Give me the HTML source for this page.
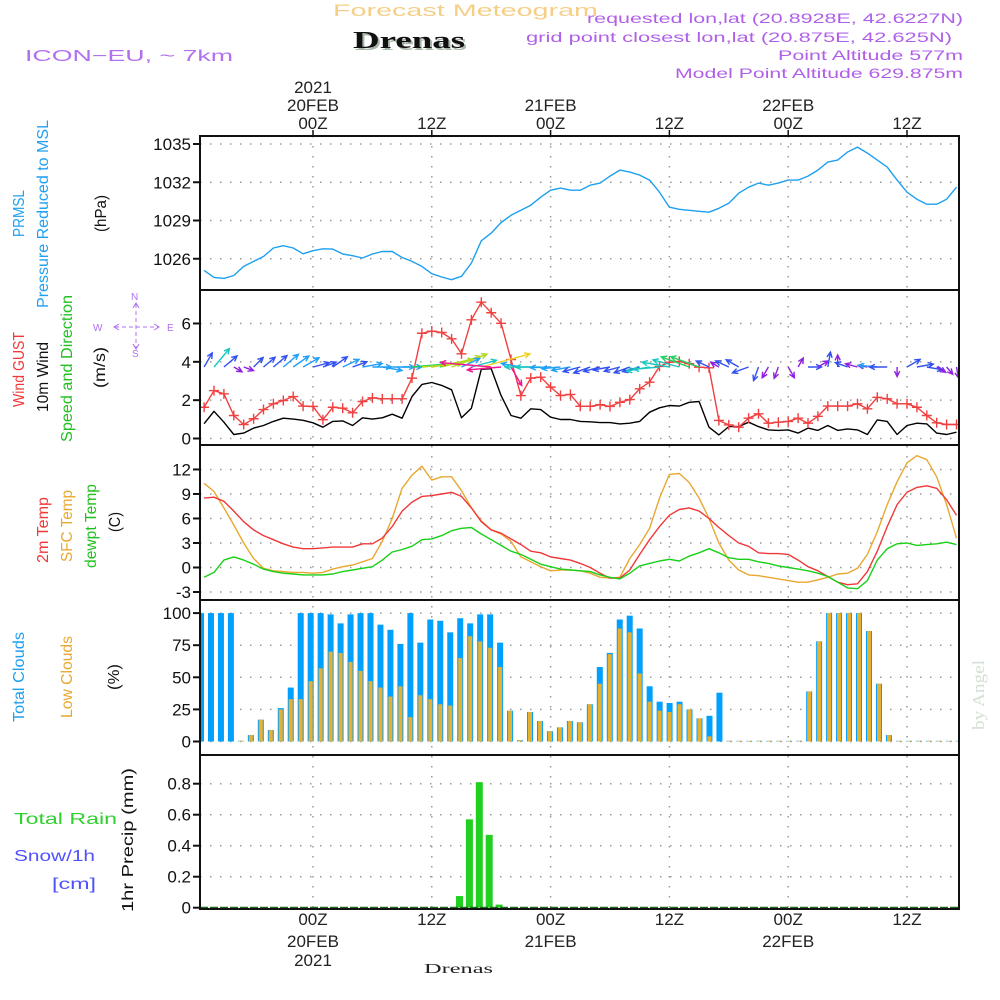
<!DOCTYPE html>
<html><head><meta charset="utf-8"><style>
html,body{margin:0;padding:0;background:#fff;}
svg{display:block;font-family:"Liberation Sans",sans-serif;}
</style></head><body>
<svg id="chart" width="1000" height="1000" viewBox="0 0 1000 1000" xmlns="http://www.w3.org/2000/svg">
<rect width="1000" height="1000" fill="#fff"/>
<g id="titles">
<text x="333" y="16" font-size="17" fill="#f5cf88" textLength="265" lengthAdjust="spacingAndGlyphs">Forecast Meteogram</text>
<text x="355" y="50" font-size="24" font-weight="bold" font-family="Liberation Serif,serif" fill="#a8b8a8" textLength="112" lengthAdjust="spacingAndGlyphs">Drenas</text>
<text x="353" y="48" font-size="24" font-weight="bold" font-family="Liberation Serif,serif" fill="#111" textLength="112" lengthAdjust="spacingAndGlyphs">Drenas</text>
<text x="25" y="61" font-size="16" fill="#b070f0" textLength="208" lengthAdjust="spacingAndGlyphs">ICON−EU, ~ 7km</text>
<text x="587" y="23" font-size="14" fill="#b060e8" textLength="376" lengthAdjust="spacingAndGlyphs">requested lon,lat (20.8928E, 42.6227N)</text>
<text x="526" y="42" font-size="14" fill="#b060e8" textLength="426" lengthAdjust="spacingAndGlyphs">grid point closest lon,lat (20.875E, 42.625N)</text>
<text x="778" y="60" font-size="14" fill="#b060e8" textLength="185" lengthAdjust="spacingAndGlyphs">Point Altitude 577m</text>
<text x="675" y="78" font-size="14" fill="#b060e8" textLength="288" lengthAdjust="spacingAndGlyphs">Model Point Altitude 629.875m</text>
<text transform="translate(984,730) rotate(-90)" font-size="17" font-family="Liberation Serif,serif" fill="#d4e0d4" textLength="70" lengthAdjust="spacingAndGlyphs">by Angel</text>
<text x="424" y="973" font-size="14" font-family="Liberation Serif,serif" fill="#222" textLength="69" lengthAdjust="spacingAndGlyphs">Drenas</text>
</g>
<g id="leftlabels" font-size="16">
<text transform="translate(24,237) rotate(-90)" fill="#20a0f0" textLength="47" lengthAdjust="spacingAndGlyphs">PRMSL</text>
<text transform="translate(48,308) rotate(-90)" fill="#20a0f0" textLength="188" lengthAdjust="spacingAndGlyphs">Pressure Reduced to MSL</text>
<text transform="translate(106,232) rotate(-90)" fill="#111" textLength="37" lengthAdjust="spacingAndGlyphs">(hPa)</text>
<text transform="translate(24,407) rotate(-90)" fill="#f03838" textLength="75" lengthAdjust="spacingAndGlyphs">Wind GUST</text>
<text transform="translate(48,412) rotate(-90)" fill="#111" textLength="70" lengthAdjust="spacingAndGlyphs">10m Wind</text>
<text transform="translate(72,442) rotate(-90)" fill="#20c020" textLength="147" lengthAdjust="spacingAndGlyphs">Speed and Direction</text>
<text transform="translate(105,388) rotate(-90)" fill="#111" textLength="41" lengthAdjust="spacingAndGlyphs">(m/s)</text>
<text transform="translate(48,563) rotate(-90)" fill="#f03838" textLength="66" lengthAdjust="spacingAndGlyphs">2m Temp</text>
<text transform="translate(72,562) rotate(-90)" fill="#e8a830" textLength="72" lengthAdjust="spacingAndGlyphs">SFC Temp</text>
<text transform="translate(96,568) rotate(-90)" fill="#20c020" textLength="84" lengthAdjust="spacingAndGlyphs">dewpt Temp</text>
<text transform="translate(120,532) rotate(-90)" fill="#111" textLength="20" lengthAdjust="spacingAndGlyphs">(C)</text>
<text transform="translate(24,722) rotate(-90)" fill="#20a0f0" textLength="90" lengthAdjust="spacingAndGlyphs">Total Clouds</text>
<text transform="translate(72,718) rotate(-90)" fill="#e8a830" textLength="82" lengthAdjust="spacingAndGlyphs">Low Clouds</text>
<text transform="translate(119,690) rotate(-90)" fill="#111" textLength="26" lengthAdjust="spacingAndGlyphs">(%)</text>
<text transform="translate(133,912) rotate(-90)" fill="#111" textLength="144" lengthAdjust="spacingAndGlyphs">1hr Precip (mm)</text>
<text x="14" y="824" fill="#30d030" textLength="103" lengthAdjust="spacingAndGlyphs">Total   Rain</text>
<text x="14" y="861" fill="#5050ff" textLength="81" lengthAdjust="spacingAndGlyphs">Snow/1h</text>
<text x="52" y="889" fill="#5050ff" textLength="44" lengthAdjust="spacingAndGlyphs">[cm]</text>
</g>
<g id="compass" fill="#b070f0" stroke="#b070f0" font-size="10">
<text x="93" y="331" stroke="none">W</text><text x="131" y="300" stroke="none">N</text>
<text x="132" y="357" stroke="none">S</text><text x="167" y="331" stroke="none">E</text>
<line x1="115" y1="327" x2="158" y2="327" stroke-width="1" stroke-dasharray="4,3"/>
<line x1="136" y1="304" x2="136" y2="348" stroke-width="1" stroke-dasharray="4,3"/>
<polyline points="119,324 114,327 119,330" fill="none"/><polyline points="154,324 159,327 154,330" fill="none"/>
<polyline points="133,308 136,303 139,308" fill="none"/><polyline points="133,344 136,349 139,344" fill="none"/>
</g>
<g id="plot"></g>
</svg>
<script>
// ---- data (hourly from h=-11 to h=65, relative to 20FEB 00Z) ----
const startHour = -11;
const pressure = [1025.09,1024.54,1024.46,1024.69,1025.4,1025.79,1026.18,1026.84,1027.02,1026.84,1026.39,1026.63,1026.78,1026.76,1026.37,1026.24,1026.06,1026.37,1026.57,1026.57,1026.1,1025.79,1025.4,1024.83,1024.57,1024.36,1024.62,1025.67,1027.41,1028.01,1028.84,
1029.41,1029.8,1030.2,1030.83,1031.38,1031.54,1031.38,1031.38,1031.77,1031.93,1032.48,1032.95,1032.8,1032.56,1032.17,1031.22,1030.04,1029.88,1029.8,1029.72,1029.65,1029.96,1030.35,1031.14,1031.61,1031.93,1031.77,1031.93,1032.17,1032.17,1032.48,1032.95,1033.58,1033.74,1034.37,1034.76,1034.29,1033.74,1033.19,1032.17,1031.22,1030.67,1030.28,1030.28,1030.67,1031.61];
const gust = [1.63,2.5,2.33,1.2,0.73,1.03,1.51,1.81,1.98,2.19,1.69,1.67,0.98,1.63,1.58,1.34,1.93,2.12,2.07,2.07,2.07,3.15,5.49,5.6,5.53,5.2,4.42,6.19,7.11,6.56,6.01,4.12,2.24,3.15,3.2,2.68,2.24,2.3,1.68,1.68,
1.76,1.67,1.89,2.03,2.59,2.94,3.76,3.98,4.02,3.9,3.72,3.69,0.94,0.71,0.59,1.06,1.29,0.8,0.85,0.89,1.06,0.8,1.16,1.69,1.69,1.69,1.81,1.55,2.15,2.07,1.81,1.81,1.63,1.2,0.82,0.73,0.73];
const wind = [0.77,1.42,0.85,0.21,0.28,0.54,0.68,0.89,1.06,1.01,0.95,0.82,0.59,0.89,0.92,0.68,1.08,1.01,1.08,1.27,1.06,2.19,2.82,2.92,2.77,2.54,1.08,1.58,3.61,3.64,2.24,1.2,1.06,1.55,1.51,1.11,0.99,0.99,0.89,0.87,
0.83,0.83,0.76,0.8,0.89,1.37,1.6,1.72,1.69,1.89,1.93,0.59,0.19,0.62,0.62,0.85,0.62,0.45,0.42,0.45,0.28,0.54,0.42,0.68,0.42,0.5,0.45,0.21,0.97,0.89,0.21,0.68,0.8,0.76,0.28,0.21,0.33];
const arrowAngle = [60,50,40,-30,-20,45,40,40,40,35,30,
15,20,35,25,20,10,0,-10,0,0,
5,5,10,15,20,25,15,
15,175,185,-60,170,180,
180,182,185,190,195,200,195,190,195,200,195,190,185,170,165,160,
160,155,150,155,150,200,-110,
-120,-110,-60,60,0,30,
80,90,160,165,170,175,180,-90,30,10,-10,-30,-50,-80];
const temp2m = [8.5,8.6,8.1,6.9,5.6,4.6,3.9,3.4,2.9,2.5,2.3,2.3,2.4,2.5,2.5,2.5,2.9,2.9,3.6,5.0,6.9,8.0,8.7,8.8,9.0,9.2,8.7,7.3,5.6,4.6,4.2,3.5,2.8,2.0,1.8,1.3,1.1,0.9,0.5,0,-0.7,-1.3,-1.3,-0.3,1.6,3.4,5.0,6.4,7.1,7.3,6.9,6.0,4.9,3.9,3.0,2.6,1.8,1.7,1.7,1.6,0.9,0.1,-0.4,-1.1,-1.8,-2.1,-2.0,-0.5,2.0,5.0,7.7,9.2,9.8,10.0,9.7,8.3,6.4];
const sfcTemp = [10.3,9.3,7.3,5.2,3.0,1.1,-0.1,-0.4,-0.5,-0.6,-0.6,-0.7,-0.6,-0.2,0.1,0.3,0.7,1.1,3.2,6.0,9.7,11.3,12.4,10.7,11.1,11.1,9.4,7.3,5.7,4.6,4.1,3.2,1.3,0.7,0.1,-0.4,-0.3,-0.3,-0.4,-0.7,-1.2,-1.3,-1.2,1.1,2.8,4.8,8.5,11.4,11.5,10.4,8.5,6.0,3.0,0.9,-0.3,-0.9,-1.0,-1.2,-1.4,-1.6,-1.8,-1.8,-1.5,-1.2,-0.8,-0.7,-0.1,1.6,4.4,7.7,10.5,12.8,13.7,13.2,11.1,7.7,3.6];
const dewpt = [-1.2,-0.6,0.9,1.3,0.9,0.4,-0.2,-0.5,-0.7,-0.8,-0.9,-0.9,-0.9,-0.8,-0.5,-0.3,-0.1,0.1,0.9,1.9,2.2,2.6,3.4,3.5,3.9,4.5,4.8,4.9,4.1,3.4,2.7,2.0,1.6,1.0,0.4,0.1,-0.2,-0.3,-0.4,-0.5,-0.9,-1.2,-1.4,-0.7,0.2,0.5,0.8,1.0,0.8,1.4,1.8,2.3,1.8,1.2,1.0,1.0,0.7,0.5,0.2,0,-0.2,-0.4,-0.7,-1.1,-1.8,-2.5,-2.6,-1.6,0.9,2.3,2.9,3.0,2.7,2.8,2.9,3.1,2.8];
const totalClouds = [100,100,100,100,0.5,5,17,9,26,42,100,100,100,99,92,99,100,100,91,87,76,100,77,95,94,85,96,92,99,99,77,24,1,23,16,8,11,16,15,29,58,69,95,98,88,43,31,30,31,25,18,20,38,0.5,0.5,0.5,0.5,0.5,0.5,0.5,0.5,39,78,100,100,100,100,86,45,5,0.5,0.5,0.5,0.5,0.5,0.5,0.5];
const lowClouds = [0,0,0,0,0.5,5,17,9,25,33,33,47,57,70,69,62,55,47,42,35,43,19,36,33,29,28,65,82,78,73,58,24,1,23,16,8,11,16,15,29,45,68,88,85,53,31,24,23,29,25,18,4,0,0.5,0.5,0.5,0.5,0.5,0.5,0.5,0.5,39,78,100,100,100,100,86,45,5,0.5,0.5,0.5,0.5,0.5,0.5,0.5];
const precipHours = [15,16,17,18,19];
const precip = [0.075,0.57,0.81,0.47,0.02];
const pressureTicks = [1026,1029,1032,1035];
const windTicks = [0,2,4,6];
const tempTicks = [-3,0,3,6,9,12];
const cloudTicks = [0,25,50,75,100];
const precipTicks = [0,0.2,0.4,0.6,0.8];
const timeTicks = [0,12,24,36,48,60];
const timeLabels = ["00Z","12Z","00Z","12Z","00Z","12Z"];
const dateLabels = ["20FEB","","21FEB","","22FEB",""];

// ---- layout ----
const NS = "http://www.w3.org/2000/svg";
const plot = document.getElementById('plot');
const L = 200, R = 959;
const panels = [[136,290],[290,445],[445,600],[600,755],[755,909]];
function X(h){ return 313 + 9.9*h; }
function cloudX(i){ return 201 + 9.97*i; }
function yP(p){ return 144 + (1035-p)*12.75; }
function yW(v){ return 438.5 - 19.17*v; }
function yT(t){ return 567.5 - 8.17*t; }
function yC(c){ return 741.5 - 1.284*c; }
function yR(r){ return 907.7 - 155*r; }
function mk(tag, attrs, parent){
  const e = document.createElementNS(NS, tag);
  for (const k in attrs) e.setAttribute(k, attrs[k]);
  (parent||plot).appendChild(e);
  return e;
}
const gridStyle = {stroke:"#999", "stroke-width":1.5, "stroke-dasharray":"1.5,8.5"};

const defs = mk('defs',{});
const cp = mk('clipPath',{id:'clip'},defs);
mk('rect',{x:L,y:136,width:R-L,height:909-136},cp);

function hgrid(ticks, yf, name){
  ticks.forEach(t=>{
    const y = yf(t);
    const g = mk('line',Object.assign({x1:L,x2:R,y1:y,y2:y},gridStyle));
    
    
    const tk = mk('line',{x1:L-7,x2:L,y1:y,y2:y,stroke:"#111","stroke-width":2});
    
    
    const lab = mk('text',{x:L-9,y:y+6,"text-anchor":"end","font-size":17,fill:"#111"});
    lab.textContent = String(t);
    
    
  });
}
hgrid(pressureTicks, yP, 'pressure');
hgrid(windTicks, yW, 'wind');
hgrid(tempTicks, yT, 'temp');
hgrid(cloudTicks, yC, 'cloud');
hgrid(precipTicks, yR, 'precip');
timeTicks.forEach((h,i)=>{
  const x = X(h);
  const v = mk('line',Object.assign({x1:x,x2:x,y1:136,y2:909},gridStyle));
  
  
  const t1 = mk('line',{x1:x,x2:x,y1:130,y2:136,stroke:"#111","stroke-width":1.5});
  
  
  const top = mk('text',{x:x,y:129,"text-anchor":"middle","font-size":17,fill:"#222"});
  top.textContent = timeLabels[i];
  
  
  const bot = mk('text',{x:x,y:925,"text-anchor":"middle","font-size":17,fill:"#222"});
  bot.textContent = timeLabels[i];
  
  
  if (dateLabels[i]) {
    const d1 = mk('text',{x:x,y:111,"text-anchor":"middle","font-size":17,fill:"#222"});
    d1.textContent = dateLabels[i];
    
    
    const d2 = mk('text',{x:x,y:947,"text-anchor":"middle","font-size":17,fill:"#222"});
    d2.textContent = dateLabels[i];
    
    
  }
});
const yr1 = mk('text',{x:X(0),y:93,"text-anchor":"middle","font-size":17,fill:"#222"});
yr1.textContent = "2021";


const yr2 = mk('text',{x:X(0),y:966,"text-anchor":"middle","font-size":17,fill:"#222"});
yr2.textContent = "2021";



const G = mk('g',{"clip-path":"url(#clip)"});
function line(arr, yf, color, name, w){
  const pts = arr.map((v,i)=>X(startHour+i).toFixed(1)+','+yf(v).toFixed(1)).join(' ');
  const p = mk('polyline',{points:pts,fill:"none",stroke:color,"stroke-width":w||1.4,"stroke-linejoin":"round"},G);
  
  
}
line(pressure, yP, "#1ea0f0", "pressure-line");
totalClouds.forEach((c,i)=>{
  const x = cloudX(i);
  const b = mk('rect',{x:x-3,y:yC(c),width:6,height:Math.max(0,yC(0)-yC(c)),fill:"#00a0ff"},G);
  
  
});
lowClouds.forEach((c,i)=>{
  const x = cloudX(i);
  const b = mk('rect',{x:x-2,y:yC(c),width:4,height:Math.max(0,yC(0)-yC(c)),fill:"#e8b030"},G);
  
  
});
precip.forEach((r,i)=>{
  const x = X(precipHours[i]) - 2;
  const b = mk('rect',{x:x-3.5,y:yR(r),width:7,height:yR(0)-yR(r),fill:"#20d020"},G);
  
  
});
const base = mk('line',{x1:L,x2:R,y1:yR(0),y2:yR(0),stroke:"#1a6a1a","stroke-width":2,"stroke-dasharray":"8,2"},G);


line(sfcTemp, yT, "#e8a830", "sfc-temp-line");
line(temp2m, yT, "#f03838", "temp2m-line");
line(dewpt, yT, "#18d018", "dewpt-line");
line(wind, yW, "#000", "wind-line");
line(gust, yW, "#f04040", "gust-line");
gust.forEach((v,i)=>{
  const x = X(startHour+i), y = yW(v);
  const m = mk('path',{d:`M${x-5},${y}h10M${x},${y-5}v10`,stroke:"#f04040","stroke-width":1.4},G);
  
  
});
function speedColor(v){
  if (v<0.5) return "#9020e0";
  if (v<0.9) return "#3050f0";
  if (v<1.3) return "#20a0f8";
  if (v<1.8) return "#18c8c0";
  if (v<2.4) return "#20d060";
  if (v<3.2) return "#b0d820";
  return "#f0d020";
}
wind.forEach((v,i)=>{
  const x = X(startHour+i), y = 367;
  const len = 7 + 12*v;
  const a = arrowAngle[i]*Math.PI/180;
  const x2 = x + len*Math.cos(a), y2 = y - len*Math.sin(a);
  const h1 = a + Math.PI - 0.45, h2 = a + Math.PI + 0.45;
  const col = (i>=29 && i<=31) ? "#f01890" : speedColor(v);
  const d = `M${x},${y}L${x2},${y2}M${x2+6*Math.cos(h1)},${y2-6*Math.sin(h1)}L${x2},${y2}L${x2+6*Math.cos(h2)},${y2-6*Math.sin(h2)}`;
  const ar = mk('path',{d:d,stroke:col,"stroke-width":1.4,fill:"none"},G);
  
  
});
panels.forEach(([t,b],i)=>{
  const r = mk('rect',{x:L,y:t,width:R-L,height:b-t,fill:"none",stroke:"#111","stroke-width":2});
  
  
});
</script>
</body></html>
